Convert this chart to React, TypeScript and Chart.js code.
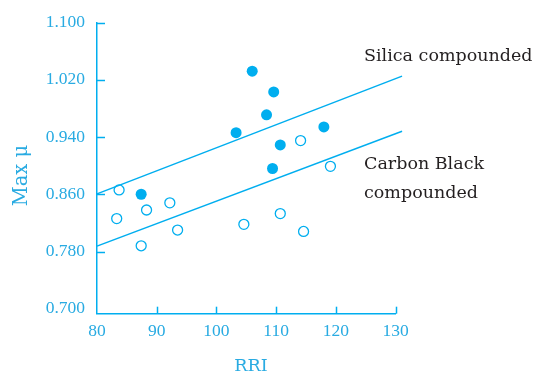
import React, { useEffect, useRef } from 'react';
import { Chart, registerables } from 'chart.js';
Chart.register(...registerables);

const silicaRRI = [106.0, 109.6, 108.4, 103.3, 118.0, 110.7, 109.4, 87.4];
const silicaMu = [1.032, 1.003, 0.971, 0.946, 0.954, 0.929, 0.896, 0.86];
const carbonRRI = [114.1, 119.1, 110.7, 104.6, 114.6, 93.5, 83.7, 92.2, 88.3, 83.3, 87.4];
const carbonMu = [0.935, 0.899, 0.833, 0.818, 0.808, 0.81, 0.866, 0.848, 0.838, 0.826, 0.788];
const fitRRI = [80, 131.1];
const silicaFit = [0.8606, 1.025];
const carbonFit = [0.7875, 0.948];
const xTicks = [80, 90, 100, 110, 120, 130];
const yTicks = [0.7, 0.78, 0.86, 0.94, 1.02, 1.1];
const xTitle = 'RRI';
const yTitle = 'Max μ';
const silicaLabel = ['Silica compounded'];
const carbonLabel = ['Carbon Black', 'compounded'];

const BLUE = '#00aeef';
const TEXT_BLUE = '#29abe2';
const DARK = '#231f20';

const pts = (xs: number[], ys: number[]) => xs.map((x, i) => ({ x, y: ys[i] }));

const decorPlugin = {
  id: 'decor',
  afterDraw(chart: any) {
    const ctx = chart.ctx;
    const xs = chart.scales.x;
    const ys = chart.scales.y;
    const area = chart.chartArea;
    ctx.save();
    ctx.strokeStyle = BLUE;
    ctx.lineWidth = 1.5;
    // inward ticks
    yTicks.forEach((v, i) => {
      if (i === 0) return;
      const py = Math.round(ys.getPixelForValue(v)) + 0.5;
      ctx.beginPath();
      ctx.moveTo(area.left, py);
      ctx.lineTo(area.left + 8, py);
      ctx.stroke();
    });
    xTicks.forEach((v, i) => {
      if (i === 0) return;
      const px = Math.round(xs.getPixelForValue(v)) + 0.5;
      ctx.beginPath();
      ctx.moveTo(px, area.bottom);
      ctx.lineTo(px, area.bottom - 7);
      ctx.stroke();
    });
    // axis titles
    ctx.fillStyle = TEXT_BLUE;
    ctx.font = '17.5px "DejaVu Serif"';
    ctx.textAlign = 'center';
    ctx.textBaseline = 'alphabetic';
    ctx.fillText(xTitle, 251, 371);
    ctx.save();
    ctx.translate(26.7, 175.5);
    ctx.rotate(-Math.PI / 2);
    ctx.font = '19.5px "DejaVu Serif"';
    ctx.fillText(yTitle, 0, 0);
    ctx.restore();
    // annotations
    ctx.fillStyle = DARK;
    ctx.font = '17.5px "DejaVu Serif"';
    ctx.textAlign = 'left';
    ctx.fillText(silicaLabel[0], 364, 61);
    ctx.fillText(carbonLabel[0], 364, 169);
    ctx.fillText(carbonLabel[1], 364, 198);
    ctx.restore();
  },
};

export default function App() {
  const ref = useRef<HTMLCanvasElement>(null);
  useEffect(() => {
    if (!ref.current) return;
    const chart = new Chart(ref.current, {
      type: 'scatter',
      data: {
        datasets: [
          {
            type: 'line',
            data: pts(fitRRI, silicaFit),
            borderColor: BLUE,
            borderWidth: 1.5,
            pointRadius: 0,
            clip: false,
          } as any,
          {
            type: 'line',
            data: pts(fitRRI, carbonFit),
            borderColor: BLUE,
            borderWidth: 1.5,
            pointRadius: 0,
            clip: false,
          } as any,
          {
            data: pts(silicaRRI, silicaMu),
            backgroundColor: BLUE,
            borderColor: BLUE,
            borderWidth: 0,
            pointRadius: 5.5,
          },
          {
            data: pts(carbonRRI, carbonMu),
            backgroundColor: '#ffffff',
            borderColor: BLUE,
            borderWidth: 1.3,
            pointRadius: 5,
          },
        ],
      },
      options: {
        responsive: false,
        animation: false,
        layout: { padding: { left: 0, top: 20.3, right: 147.5, bottom: 0 } },
        plugins: { legend: { display: false }, tooltip: { enabled: false } },
        scales: {
          x: {
            type: 'linear',
            min: 80,
            max: 130,
            afterBuildTicks: (s: any) => {
              s.ticks = xTicks.map((v) => ({ value: v }));
            },
            afterFit: (s: any) => {
              s.height = 63.3;
            },
            grid: { drawOnChartArea: false, drawTicks: false },
            border: { display: true, color: BLUE, width: 1.5 },
            ticks: {
              color: TEXT_BLUE,
              font: { family: '"Liberation Serif"', size: 17.5 },
              padding: 7,
              maxRotation: 0,
            },
          },
          y: {
            type: 'linear',
            min: 0.6931,
            max: 1.1,
            afterBuildTicks: (s: any) => {
              s.ticks = yTicks.map((v) => ({ value: v }));
            },
            afterFit: (s: any) => {
              s.width = 97;
            },
            grid: { drawOnChartArea: false, drawTicks: false },
            border: { display: true, color: BLUE, width: 1.5 },
            ticks: {
              color: TEXT_BLUE,
              font: { family: '"Liberation Serif"', size: 17.5 },
              padding: 12,
              callback: (v: any) => Number(v).toFixed(3),
            },
          },
        },
      },
      plugins: [decorPlugin],
    });
    return () => chart.destroy();
  }, []);
  return (
    <div style={{ position: 'fixed', left: 0, top: 0, width: 543, height: 377, background: '#fff' }}>
      <canvas ref={ref} width={543} height={377} style={{ display: 'block' }} />
    </div>
  );
}
